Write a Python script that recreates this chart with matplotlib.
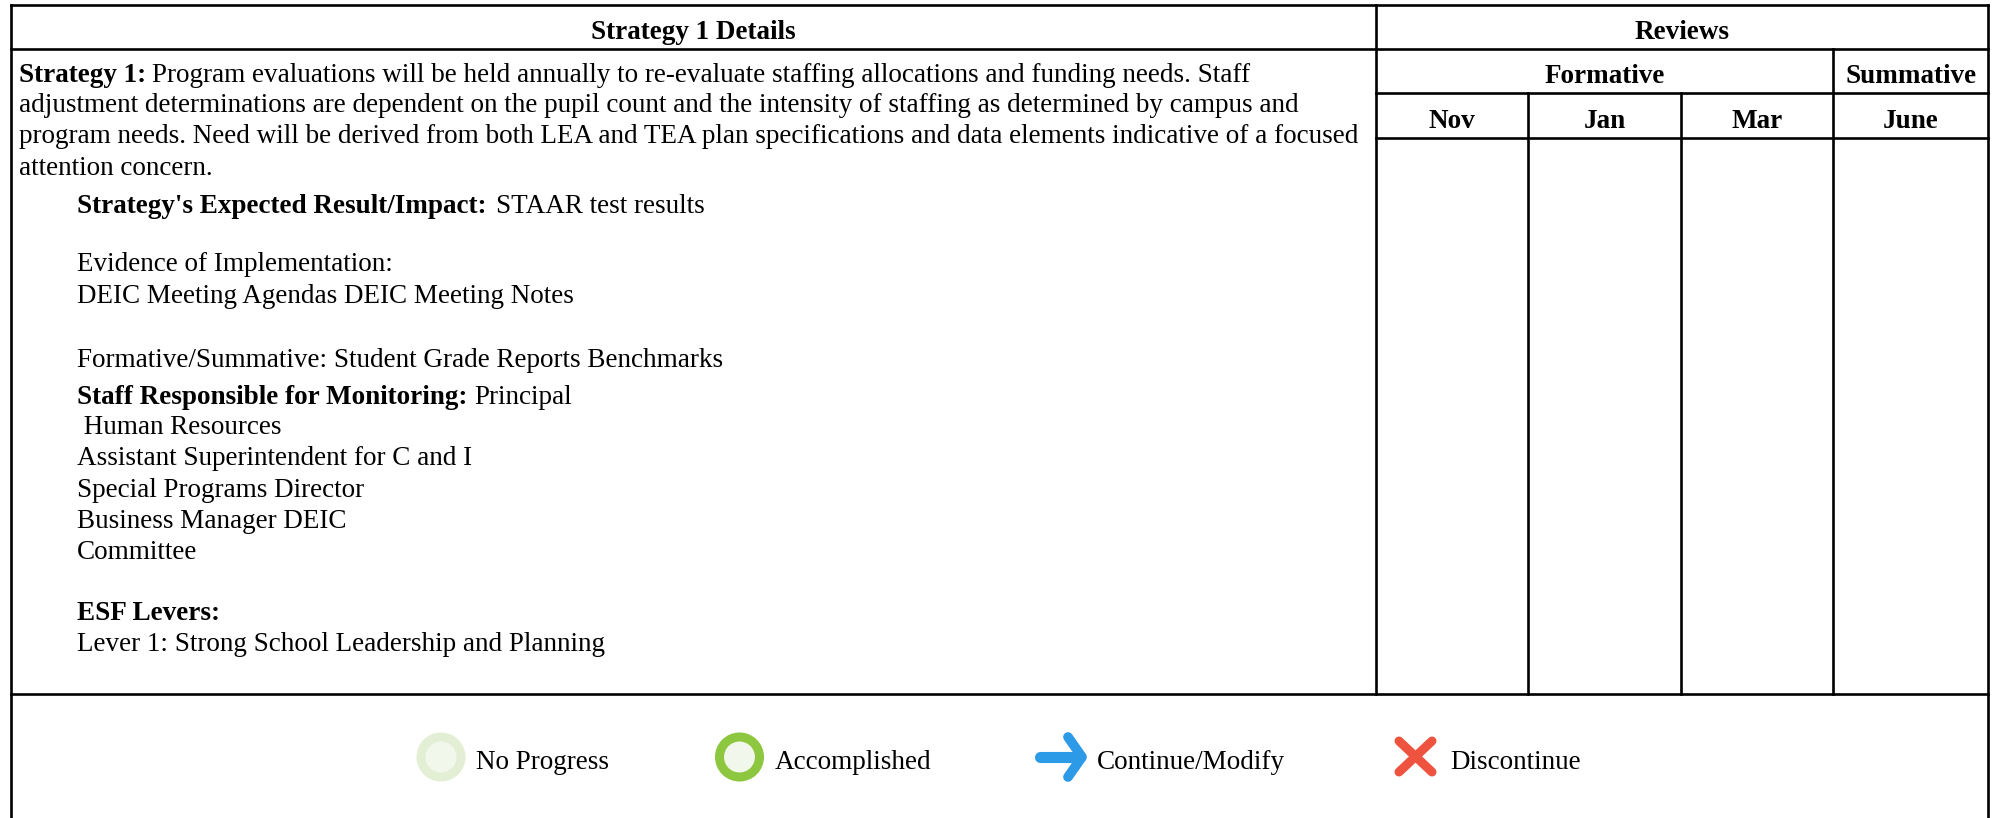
import matplotlib
matplotlib.use('Agg')
import matplotlib.pyplot as plt
from matplotlib.patches import Circle

W = 1997
H = 818
plt.rcParams['font.family'] = ['Liberation Serif', 'DejaVu Serif']

# table text
header_left = 'Strategy 1 Details'
header_right = 'Reviews'
group_labels = ['Formative', 'Summative']
month_labels = ['Nov', 'Jan', 'Mar', 'June']
legend_labels = ['No Progress', 'Accomplished', 'Continue/Modify', 'Discontinue']

# (bold part, regular part) for every line of the details cell
body_lines = [
    ('Strategy 1:', 'Program evaluations will be held annually to re-evaluate staffing allocations and funding needs. Staff'),
    ('', 'adjustment determinations are dependent on the pupil count and the intensity of staffing as determined by campus and'),
    ('', 'program needs. Need will be derived from both LEA and TEA plan specifications and data elements indicative of a focused'),
    ('', 'attention concern.'),
    ("Strategy's Expected Result/Impact:", 'STAAR test results'),
    ('', 'Evidence of Implementation:'),
    ('', 'DEIC Meeting Agendas DEIC Meeting Notes'),
    ('', 'Formative/Summative: Student Grade Reports Benchmarks'),
    ('Staff Responsible for Monitoring:', 'Principal'),
    ('', ' Human Resources'),
    ('', 'Assistant Superintendent for C and I'),
    ('', 'Special Programs Director'),
    ('', 'Business Manager DEIC'),
    ('', 'Committee'),
    ('ESF Levers:', ''),
    ('', 'Lever 1: Strong School Leadership and Planning'),
]

# layout in pixels
body_x = [19, 19, 19, 19, 77, 77, 77, 77, 77, 77, 77, 77, 77, 77, 77, 77]
body_y = [82, 112, 143, 175, 213, 271, 303, 367, 404, 434, 465, 497, 528, 559, 620, 651]
bold_gap = [6, 0, 0, 0, 10, 0, 0, 0, 7, 0, 0, 0, 0, 0, 0, 0]
left, right = 11.5, 1988.5
top, bottom = 5, 818
row1, row2, row3, row4 = 49, 93, 138, 694
col0, col1, col2, col3 = 1376, 1528, 1681, 1833
FS = 19.5

fig = plt.figure(figsize=(W / 100, H / 100), dpi=100)
ax = fig.add_axes([0, 0, 1, 1])
ax.set_xlim(0, W)
ax.set_ylim(H, 0)
ax.axis('off')


def hline(y, x0, x1):
    ax.plot([x0, x1], [y, y], color='black', lw=1.9, solid_capstyle='projecting')


def vline(x, y0, y1):
    ax.plot([x, x], [y0, y1], color='black', lw=1.9, solid_capstyle='projecting')


# grid
hline(top, left, right)
hline(row1, left, right)
hline(row2, col0, right)
hline(row3, col0, right)
hline(row4, left, right)
vline(left, top, bottom)
vline(right, top, bottom)
vline(col0, top, row4)
vline(col3, row1, row4)
vline(col1, row2, row4)
vline(col2, row2, row4)


def center(x, y, s):
    ax.text(x, y, s, ha='center', va='baseline', fontsize=FS, fontweight='bold')


center((left + col0) / 2, 39, header_left)
center((col0 + right) / 2, 39, header_right)
center((col0 + col3) / 2, 83, group_labels[0])
center((col3 + right) / 2, 83, group_labels[1])
month_x = [(col0 + col1) / 2, (col1 + col2) / 2, (col2 + col3) / 2, (col3 + right) / 2]
for mx, m in zip(month_x, month_labels):
    center(mx, 128, m)

# details cell, the bold lead-in is measured so the regular text follows it
fig.canvas.draw()
rend = fig.canvas.get_renderer()
for (b, r), x, y, gap in zip(body_lines, body_x, body_y, bold_gap):
    if b:
        t = ax.text(x, y, b, fontsize=FS, fontweight='bold', va='baseline')
        x = x + t.get_window_extent(rend).width + gap
    if r:
        ax.text(x, y, r, fontsize=FS, va='baseline')

# legend
ax.add_patch(Circle((441, 757), 20, fc='#f2f7ec', ec='#e3efd5', lw=6.5))
ax.add_patch(Circle((739.5, 757), 20, fc='#f2f7ec', ec='#8dc63f', lw=6.5))
blue = '#2c9ae6'
ax.plot([1040, 1080], [757, 757], color=blue, lw=8, solid_capstyle='round')
ax.plot([1068, 1082, 1068], [737, 757, 777], color=blue, lw=7, solid_capstyle='round', solid_joinstyle='round')
red = '#ee5340'
ax.plot([1399, 1432], [741, 772], color=red, lw=6.5, solid_capstyle='round')
ax.plot([1399, 1432], [772, 741], color=red, lw=6.5, solid_capstyle='round')
legend_x = [476, 775, 1097, 1450]
for lx, s in zip(legend_x, legend_labels):
    ax.text(lx, 769, s, fontsize=FS, va='baseline')

fig.savefig('out.png', dpi=100)
